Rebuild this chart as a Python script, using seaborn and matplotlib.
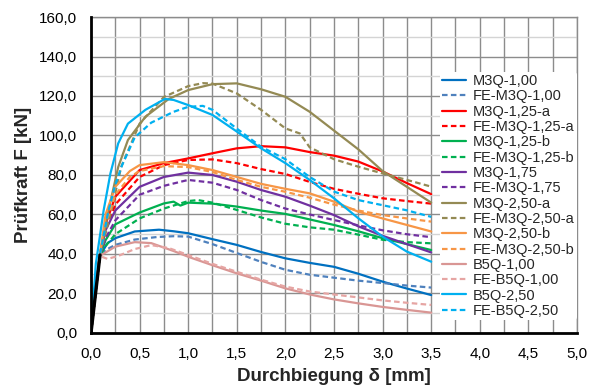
import matplotlib
matplotlib.use("Agg")
import matplotlib.pyplot as plt
import seaborn as sns
from matplotlib.ticker import MultipleLocator, FuncFormatter

# Messkurven und FE-Ergebnisse
x_m3q_100 = [0, 0.09, 0.17, 0.25, 0.45, 0.7, 0.85, 1.0, 1.25, 1.5, 1.75, 2.0, 2.25, 2.5, 2.75, 3.0, 3.25, 3.5]
y_m3q_100 = [0, 39, 45.5, 48, 51.4, 52.3, 51.5, 50.5, 47.5, 44.6, 41, 37.8, 35.5, 33.5, 30, 26, 22.5, 19.2]

x_fe_m3q_100 = [0, 0.09, 0.15, 0.25, 0.45, 0.68, 0.85, 1.0, 1.25, 1.5, 1.75, 2.0, 2.25, 2.5, 2.75, 3.0, 3.25, 3.5]
y_fe_m3q_100 = [0, 39, 42, 44.6, 47.3, 48.6, 49, 48.8, 45, 40.5, 36, 32, 29.5, 28, 26.5, 25.3, 24, 23]

x_m3q_125a = [0, 0.09, 0.15, 0.25, 0.5, 0.75, 1.0, 1.25, 1.5, 1.75, 2.0, 2.25, 2.5, 2.75, 3.0, 3.25, 3.5]
y_m3q_125a = [0, 39, 55, 69, 82.5, 86, 88.4, 91, 93.5, 94.6, 94, 91.6, 89.8, 86.8, 81.8, 75.9, 70.3]

x_fe_m3q_125a = [0, 0.09, 0.15, 0.25, 0.5, 0.75, 1.0, 1.25, 1.5, 1.75, 2.0, 2.25, 2.5, 2.75, 3.0, 3.25, 3.5]
y_fe_m3q_125a = [0, 39, 52, 65, 79, 85, 87.6, 87.9, 86, 83, 80.5, 76.5, 73, 70.5, 68.2, 66.8, 65.5]

x_m3q_125b = [0, 0.09, 0.15, 0.25, 0.5, 0.75, 0.85, 0.92, 1.0, 1.25, 1.5, 1.75, 2.0, 2.25, 2.5, 2.75, 3.0, 3.25, 3.5]
y_m3q_125b = [0, 39, 47, 55, 61, 65.6, 66.5, 64.5, 66, 65.5, 64, 62, 60.3, 57.5, 54.7, 51.5, 48, 45, 42]

x_fe_m3q_125b = [0, 0.09, 0.15, 0.25, 0.5, 0.75, 1.0, 1.1, 1.25, 1.5, 1.75, 2.0, 2.25, 2.5, 2.75, 3.0, 3.25, 3.5]
y_fe_m3q_125b = [0, 39, 44, 50, 58, 63, 66.8, 67.3, 66, 62.3, 58.5, 55.3, 53.5, 52.3, 49.8, 47.2, 46, 45.4]

x_m3q_175 = [0, 0.09, 0.15, 0.25, 0.5, 0.75, 1.0, 1.25, 1.5, 1.75, 2.0, 2.25, 2.5, 2.75, 3.0, 3.25, 3.5]
y_m3q_175 = [0, 39, 52, 62, 74, 79, 81.2, 80, 76.6, 72.4, 69, 64.5, 59.7, 54, 49.2, 45, 40.8]

x_fe_m3q_175 = [0, 0.09, 0.15, 0.25, 0.5, 0.75, 1.0, 1.25, 1.5, 1.75, 2.0, 2.25, 2.5, 2.75, 3.0, 3.25, 3.5]
y_fe_m3q_175 = [0, 39, 48, 57, 70, 74.5, 77.5, 76.1, 72.4, 67.3, 63, 60, 57.2, 54.5, 52, 50, 48.5]

x_m3q_250a = [0, 0.09, 0.18, 0.28, 0.38, 0.56, 0.8, 1.0, 1.25, 1.5, 1.75, 2.0, 2.25, 2.5, 2.75, 3.0, 3.25, 3.5]
y_m3q_250a = [0, 39, 62, 84, 97.7, 109.5, 118.5, 123, 126, 126.4, 123.4, 119.6, 112, 102.5, 93, 82, 74, 66]

x_fe_m3q_250a = [0, 0.09, 0.21, 0.31, 0.5, 0.75, 1.0, 1.15, 1.25, 1.5, 1.75, 2.0, 2.15, 2.25, 2.5, 2.75, 3.0, 3.25, 3.5]
y_fe_m3q_250a = [0, 39, 62, 84, 106, 119.5, 125, 126.5, 126.3, 121.3, 113, 103.6, 101, 94, 88, 84.2, 80.8, 77.5, 74.1]

x_m3q_250b = [0, 0.09, 0.15, 0.25, 0.4, 0.5, 0.75, 1.0, 1.25, 1.5, 1.75, 2.0, 2.25, 2.5, 2.75, 3.0, 3.25, 3.5]
y_m3q_250b = [0, 39, 60, 74, 82, 85, 86.5, 85, 82.5, 79, 75.5, 73, 70.7, 66.5, 61.4, 58, 54.7, 51.4]

x_fe_m3q_250b = [0, 0.09, 0.15, 0.25, 0.4, 0.5, 0.75, 1.0, 1.25, 1.5, 1.75, 2.0, 2.25, 2.5, 2.75, 3.0, 3.25, 3.5]
y_fe_m3q_250b = [0, 39, 55, 70, 79, 82, 84.5, 84, 81.5, 77.5, 74, 71.5, 68.5, 65, 62, 59.7, 58, 56.4]

x_b5q_100 = [0, 0.09, 0.25, 0.45, 0.62, 0.85, 1.0, 1.25, 1.5, 1.75, 2.0, 2.25, 2.5, 2.75, 3.0, 3.25, 3.5]
y_b5q_100 = [0, 39, 43.7, 46, 45.5, 41.5, 38.6, 34.3, 30.2, 26.5, 22.6, 19.5, 17, 15, 13.2, 11.7, 10.3]

x_fe_b5q_100 = [0, 0.09, 0.17, 0.28, 0.45, 0.62, 0.8, 1.0, 1.25, 1.5, 1.75, 2.0, 2.25, 2.5, 2.75, 3.0, 3.25, 3.5]
y_fe_b5q_100 = [0, 39, 37.5, 39, 42.5, 44.5, 43, 39.5, 35, 31, 27, 23.5, 21, 19.5, 18, 16.5, 15.3, 14.2]

x_b5q_250 = [0, 0.05, 0.13, 0.2, 0.28, 0.38, 0.56, 0.76, 0.85, 1.0, 1.25, 1.5, 1.75, 2.0, 2.25, 2.5, 2.75, 3.0, 3.25, 3.5]
y_b5q_250 = [0, 35, 62, 80.8, 96, 106, 113, 118.5, 118, 115.4, 110.4, 102, 93.5, 86, 77.5, 68.2, 58.1, 48.8, 41.2, 36.1]

x_fe_b5q_250 = [0, 0.09, 0.18, 0.25, 0.32, 0.45, 0.62, 0.85, 1.0, 1.15, 1.25, 1.5, 1.75, 2.0, 2.25, 2.5, 2.75, 3.0, 3.25, 3.5]
y_fe_b5q_250 = [0, 39, 62, 75, 85, 99, 106.5, 112, 114.5, 115, 113, 103.5, 94.3, 88, 79, 71.6, 67.3, 64.7, 62.1, 58.8]

# linear-elastischer Anfangsbereich (schwarz, ohne Legende)
x_elast = [0, 0.093]
y_elast = [0, 39.5]

series = [
    ("M3Q-1,00", x_m3q_100, y_m3q_100, "#0070C0", False),
    ("FE-M3Q-1,00", x_fe_m3q_100, y_fe_m3q_100, "#4F81BD", True),
    ("M3Q-1,25-a", x_m3q_125a, y_m3q_125a, "#FF0000", False),
    ("FE-M3Q-1,25-a", x_fe_m3q_125a, y_fe_m3q_125a, "#FF0000", True),
    ("M3Q-1,25-b", x_m3q_125b, y_m3q_125b, "#00B050", False),
    ("FE-M3Q-1,25-b", x_fe_m3q_125b, y_fe_m3q_125b, "#00B050", True),
    ("M3Q-1,75", x_m3q_175, y_m3q_175, "#7030A0", False),
    ("FE-M3Q-1,75", x_fe_m3q_175, y_fe_m3q_175, "#7030A0", True),
    ("M3Q-2,50-a", x_m3q_250a, y_m3q_250a, "#948A54", False),
    ("FE-M3Q-2,50-a", x_fe_m3q_250a, y_fe_m3q_250a, "#948A54", True),
    ("M3Q-2,50-b", x_m3q_250b, y_m3q_250b, "#F79646", False),
    ("FE-M3Q-2,50-b", x_fe_m3q_250b, y_fe_m3q_250b, "#F79646", True),
    ("B5Q-1,00", x_b5q_100, y_b5q_100, "#D99694", False),
    ("FE-B5Q-1,00", x_fe_b5q_100, y_fe_b5q_100, "#E6A5A3", True),
    ("B5Q-2,50", x_b5q_250, y_b5q_250, "#00B0F0", False),
    ("FE-B5Q-2,50", x_fe_b5q_250, y_fe_b5q_250, "#00B0F0", True),
]

sns.set_style("white")
plt.rcParams['font.family'] = ['Liberation Sans', 'DejaVu Sans']

fig = plt.figure(figsize=(5.97, 3.9), dpi=100)
ax = fig.add_axes([0.1524, 0.1462, 0.8141, 0.8102])

for label, xs, ys, col, dashed in series:
    ls = (0, (2.5, 1.5)) if dashed else "-"
    sns.lineplot(x=xs, y=ys, ax=ax, color=col, linestyle=ls, lw=1.6,
                 label=label, sort=False, estimator=None, zorder=3)

sns.lineplot(x=x_elast, y=y_elast, ax=ax, color="black", lw=2.4,
             sort=False, estimator=None, zorder=4, label="_nolegend_")

ax.set_xlim(0, 5)
ax.set_ylim(0, 160)
ax.xaxis.set_major_locator(MultipleLocator(0.5))
ax.xaxis.set_minor_locator(MultipleLocator(0.25))
ax.yaxis.set_major_locator(MultipleLocator(20))
ax.yaxis.set_minor_locator(MultipleLocator(10))
fmt = FuncFormatter(lambda v, p: f"{v:.1f}".replace(".", ","))
ax.xaxis.set_major_formatter(fmt)
ax.yaxis.set_major_formatter(fmt)

ax.set_axisbelow(True)
ax.xaxis.grid(True, which="both", color="#8C8C8C", lw=1.0)
ax.yaxis.grid(True, which="major", color="#8C8C8C", lw=1.0)
ax.yaxis.grid(True, which="minor", color="#D4D4D4", lw=1.0)

for side in ["left", "bottom"]:
    ax.spines[side].set_color("black")
    ax.spines[side].set_linewidth(2.0)
    ax.spines[side].set_zorder(5)
for side in ["top", "right"]:
    ax.spines[side].set_color("#8C8C8C")
    ax.spines[side].set_linewidth(1.0)

ax.tick_params(axis="both", which="both", length=0, labelsize=11, colors="black")
ax.tick_params(axis="y", pad=10)
ax.tick_params(axis="x", pad=10)

ax.set_xlabel("Durchbiegung δ [mm]", fontsize=13.5, fontweight="bold")
ax.set_ylabel("Prüfkraft F [kN]", fontsize=13.5, fontweight="bold")
ax.xaxis.set_label_coords(0.5, -0.111)
ax.yaxis.set_label_coords(-0.121, 0.5)

leg = ax.legend(loc="upper right", bbox_to_anchor=(1.0, 0.826), fontsize=10.5,
                frameon=True, facecolor="white", edgecolor="none", framealpha=1,
                borderpad=0.15, borderaxespad=0, labelspacing=0.09,
                handlelength=1.6, handletextpad=0.5)
leg.set_zorder(6)

fig.savefig("out.png", dpi=100)
